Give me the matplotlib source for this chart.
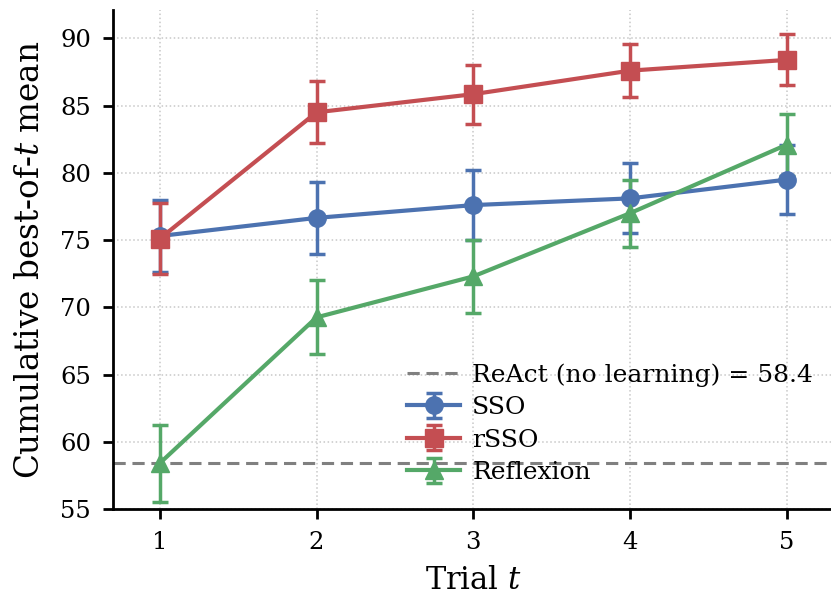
import matplotlib

matplotlib.use("Agg")
import matplotlib.pyplot as plt

trials = [1, 2, 3, 4, 5]
react_baseline = 58.4

sso_mean = [75.3, 76.65, 77.6, 78.1, 79.5]
sso_err = [2.7, 2.65, 2.6, 2.6, 2.55]
rsso_mean = [75.1, 84.5, 85.85, 87.6, 88.4]
rsso_err = [2.65, 2.3, 2.2, 1.95, 1.9]
reflexion_mean = [58.4, 69.25, 72.3, 77.0, 82.1]
reflexion_err = [2.85, 2.75, 2.7, 2.5, 2.3]

BLUE = "#4C72B0"
RED = "#C44E52"
GREEN = "#55A868"

plt.rcParams["font.family"] = "DejaVu Serif"
plt.rcParams["mathtext.fontset"] = "dejavuserif"

fig = plt.figure(figsize=(8.31, 5.96), dpi=100)
ax = fig.add_axes([0.1356, 0.146, 0.868, 0.837])

ax.axhline(react_baseline, color="#808080", linestyle="--", linewidth=2.2,
           dashes=(4, 2.2), label=f"ReAct (no learning) = {react_baseline}")

style = dict(linewidth=3, markersize=12.5, capsize=6, capthick=2.5, elinewidth=2.5)
ax.errorbar(trials, sso_mean, yerr=sso_err, color=BLUE, marker="o", label="SSO", **style)
ax.errorbar(trials, rsso_mean, yerr=rsso_err, color=RED, marker="s", label="rSSO", **style)
ax.errorbar(trials, reflexion_mean, yerr=reflexion_err, color=GREEN, marker="^",
            label="Reflexion", **style)

ax.set_xlim(0.7, 5.3)
ax.set_ylim(55, 92.1)
ax.set_xticks(trials)
ax.set_yticks([55, 60, 65, 70, 75, 80, 85, 90])
ax.grid(True, linestyle=":", color="#c8c8c8", linewidth=1.1)
ax.set_axisbelow(True)

for side in ("top", "right"):
    ax.spines[side].set_visible(False)
for side in ("left", "bottom"):
    ax.spines[side].set_linewidth(2)
ax.tick_params(labelsize=17.5, length=7.5, width=2, pad=8)

ax.set_xlabel("Trial $t$", fontsize=22, labelpad=8)
ax.set_ylabel("Cumulative best-of-$t$ mean", fontsize=23.5, labelpad=10)

ax.legend(loc="lower right", bbox_to_anchor=(0.985, 0.03), frameon=False,
          fontsize=18, handlelength=2.1, handletextpad=0.5, labelspacing=0.38,
          borderaxespad=0)

fig.savefig("out.png", dpi=100)
